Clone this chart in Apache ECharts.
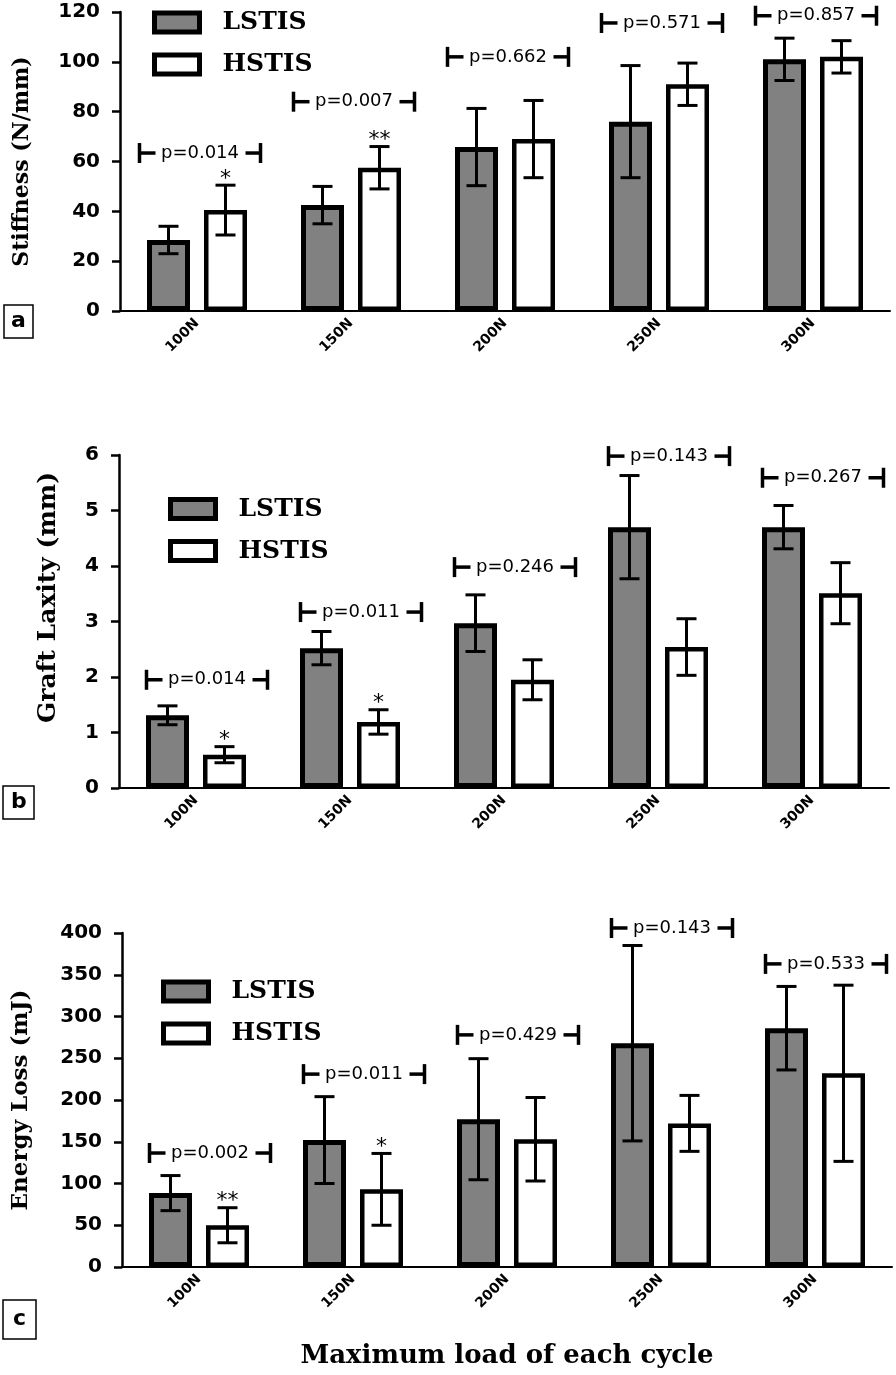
<!DOCTYPE html>
<html>
<head>
<meta charset="utf-8">
<script src="https://cdn.jsdelivr.net/npm/echarts@6/dist/echarts.min.js"></script>
<style>
  html, body { margin: 0; padding: 0; background: #fff; }
  #chart { width: 896px; height: 1375px; }
</style>
</head>
<body>
<div id="chart"></div>
<script>
// ---------------- DATA ----------------
const categories = ['100N', '150N', '200N', '250N', '300N'];
const seriesNames = ['LSTIS', 'HSTIS'];

// Panel a: Stiffness (N/mm)
const stiffLSTIS    = [28.5, 42.5, 65.8, 76, 101];
const stiffLSTISErr = [5.5, 7.5, 15.5, 22.5, 8.5];
const stiffHSTIS    = [40.5, 57.5, 69, 91, 102];
const stiffHSTISErr = [10, 8.5, 15.5, 8.5, 6.5];
const stiffPText    = ['p=0.014', 'p=0.007', 'p=0.662', 'p=0.571', 'p=0.857'];
const stiffPLevel   = [63.4, 84, 102, 115.6, 118.5];
const stiffStars    = ['*', '**', '', '', ''];
const stiffTicks    = { min: 0, max: 120, interval: 20 };

// Panel b: Graft Laxity (mm)
const laxLSTIS    = [1.31, 2.52, 2.97, 4.7, 4.7];
const laxLSTISErr = [0.17, 0.3, 0.51, 0.93, 0.39];
const laxHSTIS    = [0.6, 1.19, 1.95, 2.54, 3.51];
const laxHSTISErr = [0.145, 0.22, 0.36, 0.51, 0.55];
const laxPText    = ['p=0.014', 'p=0.011', 'p=0.246', 'p=0.143', 'p=0.267'];
const laxPLevel   = [1.95, 3.17, 3.98, 5.98, 5.59];
const laxStars    = ['*', '*', '', '', ''];
const laxTicks    = { min: 0, max: 6, interval: 1 };

// Panel c: Energy Loss (mJ)
const enLSTIS    = [88.5, 152, 177, 268, 286];
const enLSTISErr = [21, 52, 72.5, 117, 50];
const enHSTIS    = [50, 93, 153, 172, 232];
const enHSTISErr = [21, 43, 50, 33.5, 105.5];
const enPText    = ['p=0.002', 'p=0.011', 'p=0.429', 'p=0.143', 'p=0.533'];
const enPLevel   = [136.5, 231, 278, 406, 363];
const enStars    = ['**', '*', '', '', ''];
const enTicks    = { min: 0, max: 400, interval: 50 };

// ---------------- STYLE ----------------
const BAR_W = 43;
const BAR_GAP_PX = 14;
const BAR_OFFSET = (BAR_W + BAR_GAP_PX) / 2;
const CAP = 10;
const GRAY = '#818181';
const SANS = 'DejaVu Sans';
const SERIF = 'DejaVu Serif';

const panels = [
  { L: stiffLSTIS, LE: stiffLSTISErr, H: stiffHSTIS, HE: stiffHSTISErr, P: stiffPText, PL: stiffPLevel, S: stiffStars, T: stiffTicks,
    name: 'Stiffness (N/mm)', nameGap: 87, namePad: [0,0,0,0], nameSize: 22, bracketShift: 3,
    grid: { left: 120, top: 12, width: 770, height: 299 },
    legend: { left: 147, top: 5 } },
  { L: laxLSTIS, LE: laxLSTISErr, H: laxHSTIS, HE: laxHSTISErr, P: laxPText, PL: laxPLevel, S: laxStars, T: laxTicks,
    name: 'Graft Laxity (mm)', nameGap: 58, namePad: [0,0,0,48], nameSize: 25, bracketShift: 11,
    grid: { left: 119, top: 455, width: 770, height: 333 },
    legend: { left: 163, top: 491.5 } },
  { L: enLSTIS, LE: enLSTISErr, H: enHSTIS, HE: enHSTISErr, P: enPText, PL: enPLevel, S: enStars, T: enTicks,
    name: 'Energy Loss (mJ)', nameGap: 89, namePad: [0,0,0,0], nameSize: 23, bracketShift: 11,
    grid: { left: 122, top: 933, width: 770, height: 334 },
    legend: { left: 156, top: 974 } }
];

const grids = [], xAxes = [], yAxes = [], series = [], legends = [];

function errSeries(gi, means, errs, dx) {
  return {
    type: 'custom', xAxisIndex: gi, yAxisIndex: gi, z: 5, silent: true,
    data: means.map((m, i) => [i, m, errs[i]]),
    encode: { x: 0, y: 1 },
    renderItem: function (params, api) {
      const i = api.value(0), m = api.value(1), e = api.value(2);
      const p1 = api.coord([i, m + e]);
      const p2 = api.coord([i, m - e]);
      const x = p1[0] + dx;
      const st = { stroke: '#000', lineWidth: 3 };
      return { type: 'group', children: [
        { type: 'line', shape: { x1: x, y1: p1[1], x2: x, y2: p2[1] }, style: st },
        { type: 'line', shape: { x1: x - CAP, y1: p1[1], x2: x + CAP, y2: p1[1] }, style: st },
        { type: 'line', shape: { x1: x - CAP, y1: p2[1], x2: x + CAP, y2: p2[1] }, style: st }
      ]};
    }
  };
}

function bracketSeries(gi, levels, texts, shift) {
  return {
    type: 'custom', xAxisIndex: gi, yAxisIndex: gi, z: 6, silent: true, clip: false,
    data: levels.map((v, i) => [i, v]),
    encode: { x: 0, y: 1 },
    renderItem: function (params, api) {
      const c = api.coord([api.value(0), api.value(1)]);
      const cx = c[0] + shift, y = c[1];
      const Lx = cx - 60.5, Rx = cx + 60.5;
      const st = { stroke: '#000', lineWidth: 3.5 };
      return { type: 'group', children: [
        { type: 'line', shape: { x1: Lx, y1: y - 10, x2: Lx, y2: y + 10 }, style: st },
        { type: 'line', shape: { x1: Lx, y1: y, x2: Lx + 16, y2: y }, style: st },
        { type: 'line', shape: { x1: Rx - 15, y1: y, x2: Rx, y2: y }, style: st },
        { type: 'line', shape: { x1: Rx, y1: y - 10, x2: Rx, y2: y + 10 }, style: st },
        { type: 'text', style: { text: texts[params.dataIndex], x: cx, y: y, align: 'center', verticalAlign: 'middle',
            fontFamily: SANS, fontSize: 18, fill: '#000' } }
      ]};
    }
  };
}

function starSeries(gi, means, errs, stars, dx) {
  return {
    type: 'custom', xAxisIndex: gi, yAxisIndex: gi, z: 6, silent: true,
    data: means.map((m, i) => [i, m + errs[i]]),
    encode: { x: 0, y: 1 },
    renderItem: function (params, api) {
      const s = stars[params.dataIndex];
      if (!s) return null;
      const c = api.coord([api.value(0), api.value(1)]);
      return { type: 'text', style: { text: s, x: c[0] + dx, y: c[1] - 6, align: 'center', verticalAlign: 'middle',
        fontFamily: SANS, fontSize: 22, fill: '#000' } };
    }
  };
}

panels.forEach((p, gi) => {
  grids.push(p.grid);
  xAxes.push({
    type: 'category', gridIndex: gi, data: categories,
    axisLine: { lineStyle: { color: '#000', width: 2 } },
    axisTick: { alignWithLabel: true, length: 8, lineStyle: { color: '#000', width: 3 } },
    axisLabel: { rotate: 45, margin: 10, fontSize: 14, fontWeight: 'bold', fontFamily: SANS, color: '#000' },
    splitLine: { show: false },
    name: gi === 2 ? 'Maximum load of each cycle' : '',
    nameLocation: 'middle', nameGap: 76,
    nameTextStyle: { fontFamily: SERIF, fontWeight: 'bold', fontSize: 26, color: '#000' }
  });
  yAxes.push({
    type: 'value', gridIndex: gi, min: p.T.min, max: p.T.max, interval: p.T.interval,
    axisLine: { show: true, lineStyle: { color: '#000', width: 2.5 } },
    axisTick: { show: true, length: 8, lineStyle: { color: '#000', width: 2.5 } },
    axisLabel: { margin: 20, fontSize: 20, fontWeight: 'bold', fontFamily: SANS, color: '#000' },
    splitLine: { show: false },
    name: p.name, nameLocation: 'middle', nameRotate: 90, nameGap: p.nameGap,
    nameTextStyle: { fontFamily: SERIF, fontWeight: 'bold', fontSize: p.nameSize, color: '#000', padding: p.namePad }
  });
  series.push({
    name: 'LSTIS', type: 'bar', xAxisIndex: gi, yAxisIndex: gi, data: p.L, barWidth: BAR_W,
    barGap: (BAR_GAP_PX / BAR_W * 100) + '%',
    itemStyle: { color: GRAY, borderColor: '#000', borderWidth: 5 }, silent: true
  });
  series.push({
    name: 'HSTIS', type: 'bar', xAxisIndex: gi, yAxisIndex: gi, data: p.H, barWidth: BAR_W,
    barGap: (BAR_GAP_PX / BAR_W * 100) + '%',
    itemStyle: { color: '#fff', borderColor: '#000', borderWidth: 4.5 }, silent: true
  });
  series.push(errSeries(gi, p.L, p.LE, -BAR_OFFSET));
  series.push(errSeries(gi, p.H, p.HE, BAR_OFFSET));
  series.push(bracketSeries(gi, p.PL, p.P, p.bracketShift));
  series.push(starSeries(gi, p.H, p.HE, p.S, BAR_OFFSET));
  legends.push({
    data: seriesNames, orient: 'vertical', left: p.legend.left, top: p.legend.top,
    itemWidth: 45, itemHeight: 19, itemGap: 17, icon: 'rect', selectedMode: false,
    itemStyle: { borderColor: '#000', borderWidth: 5 },
    formatter: n => '{t|' + n + '}',
    textStyle: { rich: { t: { fontFamily: SERIF, fontWeight: 'bold', fontSize: 25, color: '#000', padding: [0, 0, 0, 18] } } }
  });
});

const boxTitle = (t, left, top, pad) => ({
  text: t, left: left, top: top, padding: pad, borderColor: '#000', borderWidth: 1.5,
  textStyle: { fontFamily: SANS, fontWeight: 'bold', fontSize: 22, color: '#000' }
});

const chart = echarts.init(document.getElementById('chart'), null, { renderer: 'canvas' });
chart.setOption({
  animation: false,
  backgroundColor: '#fff',
  title: [
    boxTitle('a', 4, 305, [5, 7, 6, 7]),
    boxTitle('b', 3, 786, [5, 8, 6, 8]),
    boxTitle('c', 3, 1300, [8, 10, 9, 10])
  ],
  legend: legends,
  grid: grids,
  xAxis: xAxes,
  yAxis: yAxes,
  series: series
});
</script>
</body>
</html>
